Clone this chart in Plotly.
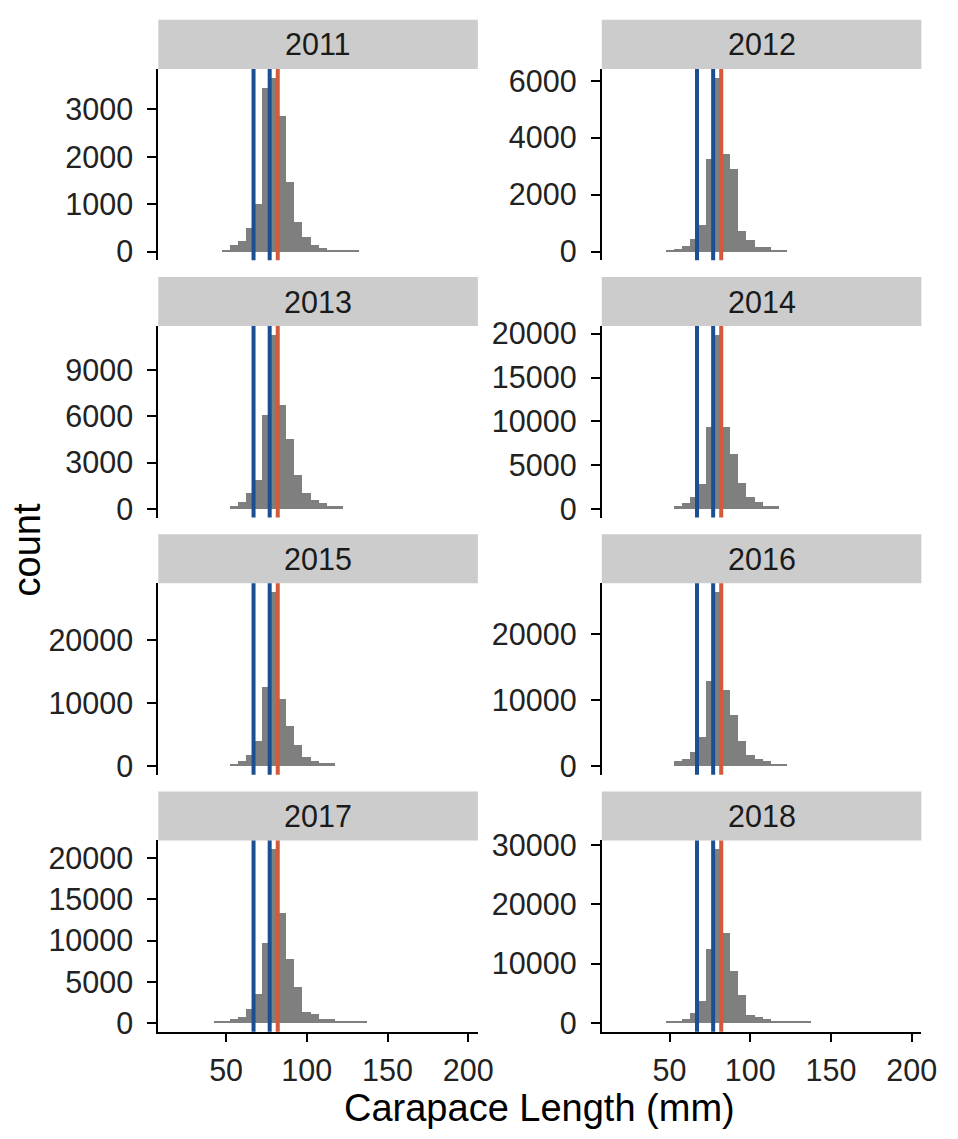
import plotly.graph_objects as go

# ---------------- data ----------------
years = ["2011", "2012", "2013", "2014", "2015", "2016", "2017", "2018"]
bin_width = 5
first_bin = {"2011": 50, "2012": 50, "2013": 55, "2014": 55,
             "2015": 55, "2016": 55, "2017": 45, "2018": 50}
counts_2011 = [40, 138, 220, 510, 1015, 3443, 3670, 2857, 1477, 635, 304, 138, 83, 40, 35, 30, 25]
counts_2012 = [60, 80, 208, 450, 946, 3242, 6113, 3437, 2895, 715, 427, 173, 150, 69, 60]
counts_2013 = [193, 450, 987, 1888, 6073, 11288, 6717, 4528, 2167, 987, 558, 343, 193, 193]
counts_2014 = [340, 605, 1285, 2873, 9299, 19883, 9299, 6275, 2986, 1285, 794, 340, 340]
counts_2015 = [316, 684, 1683, 3998, 12519, 27615, 10573, 6365, 3209, 1368, 789, 368, 368]
counts_2016 = [650, 1050, 2150, 4300, 12800, 26400, 11550, 7650, 3800, 1550, 1000, 650, 300, 300]
counts_2017 = [160, 160, 478, 717, 1673, 3426, 9641, 21100, 13267, 7729, 4303, 1275, 996, 478, 478,
               200, 180, 160, 140]
counts_2018 = [221, 221, 663, 1713, 3702, 12431, 29300, 15028, 8674, 4696, 1381, 995, 663, 276, 276,
               200, 180, 150]
counts = {"2011": counts_2011, "2012": counts_2012, "2013": counts_2013, "2014": counts_2014,
          "2015": counts_2015, "2016": counts_2016, "2017": counts_2017, "2018": counts_2018}
y_dtick = {"2011": 1000, "2012": 2000, "2013": 3000, "2014": 5000,
           "2015": 10000, "2016": 10000, "2017": 5000, "2018": 10000}
blue_lines = [67, 77]
red_lines = [82]
x_ticks = [50, 100, 150, 200]
x_range = [8, 206]
x_title = "Carapace Length (mm)"
y_title = "count"

# ---------------- layout geometry (pixels) ----------------
W, H = 958, 1139
col_x = [(161, 486), (612, 937)]
row_step = 262
strip_top0, strip_h, panel_h = 7, 50, 195

BAR = "#7F7F7F"
STRIP = "#CCCCCC"
BLUE = "#1A5093"
RED = "#D45A3C"
FONT = "Liberation Sans, Arial, sans-serif"
TICK_SIZE = 30.5
TITLE_SIZE = 38
TEXT = "#222222"

def px_x(p):
    return p / W

def px_y(p):
    return 1 - p / H

fig = go.Figure()
shapes = []
annotations = []

for i, yr in enumerate(years):
    r, c = divmod(i, 2)
    k = i + 1
    xa = "x" if k == 1 else f"x{k}"
    ya = "y" if k == 1 else f"y{k}"
    vals = counts[yr]
    centers = [first_bin[yr] + bin_width * j for j in range(len(vals))]
    fig.add_trace(go.Bar(x=centers, y=vals, width=bin_width, marker=dict(color=BAR, line=dict(width=0)),
                         xaxis=xa, yaxis=ya, showlegend=False, hoverinfo="x+y"))
    x0, x1 = col_x[c]
    st = strip_top0 + row_step * r
    pt = st + strip_h
    pb = pt + panel_h
    ymax = max(vals)
    bottom = (r == 3)
    fig.layout[f"xaxis{'' if k == 1 else k}"] = dict(
        domain=[px_x(x0), px_x(x1)], anchor=ya, range=x_range,
        showline=bottom, linecolor="black", linewidth=2,
        ticks="outside" if bottom else "", ticklen=8, tickwidth=2, tickcolor="black",
        tickvals=x_ticks, showticklabels=bottom, showgrid=False, zeroline=False,
        tickfont=dict(family=FONT, size=TICK_SIZE, color=TEXT), ticklabelstandoff=3,
    )
    fig.layout[f"yaxis{'' if k == 1 else k}"] = dict(
        domain=[px_y(pb), px_y(pt)], anchor=xa, range=[-0.05 * ymax, 1.05 * ymax],
        showline=True, linecolor="black", linewidth=2,
        ticks="outside", ticklen=9, tickwidth=2, tickcolor="black",
        dtick=y_dtick[yr], tick0=0, showgrid=False, zeroline=False,
        tickformat="d", exponentformat="none", separatethousands=False,
        tickfont=dict(family=FONT, size=TICK_SIZE, color=TEXT), ticklabelstandoff=8,
    )
    # strip
    shapes.append(dict(type="rect", xref="paper", yref="paper",
                       x0=px_x(x0), x1=px_x(x1), y0=px_y(pt), y1=px_y(st),
                       fillcolor=STRIP, line=dict(width=0), layer="below"))
    annotations.append(dict(text=yr, xref="paper", yref="paper", x=px_x((x0 + x1) / 2),
                            y=px_y(st + strip_h / 2), xanchor="center", yanchor="middle",
                            showarrow=False, font=dict(family=FONT, size=TICK_SIZE, color="#1a1a1a")))
    for v in blue_lines:
        shapes.append(dict(type="line", xref=xa, yref=f"{ya} domain", x0=v, x1=v, y0=0, y1=1,
                           line=dict(color=BLUE, width=4)))
    for v in red_lines:
        shapes.append(dict(type="line", xref=xa, yref=f"{ya} domain", x0=v, x1=v, y0=0, y1=1,
                           line=dict(color=RED, width=4)))

annotations.append(dict(text=x_title, xref="paper", yref="paper", x=px_x(549), y=0,
                        xanchor="center", yanchor="bottom", showarrow=False,
                        font=dict(family=FONT, size=TITLE_SIZE, color="black")))
annotations.append(dict(text=y_title, xref="paper", yref="paper", x=px_x(27), y=px_y(547),
                        xanchor="center", yanchor="middle", showarrow=False, textangle=-90,
                        font=dict(family=FONT, size=TITLE_SIZE, color="black")))

fig.update_layout(width=W, height=H, margin=dict(l=0, r=0, t=0, b=0),
                  plot_bgcolor="white", paper_bgcolor="white", bargap=0,
                  shapes=shapes, annotations=annotations, showlegend=False)

fig.write_html("out.html")
